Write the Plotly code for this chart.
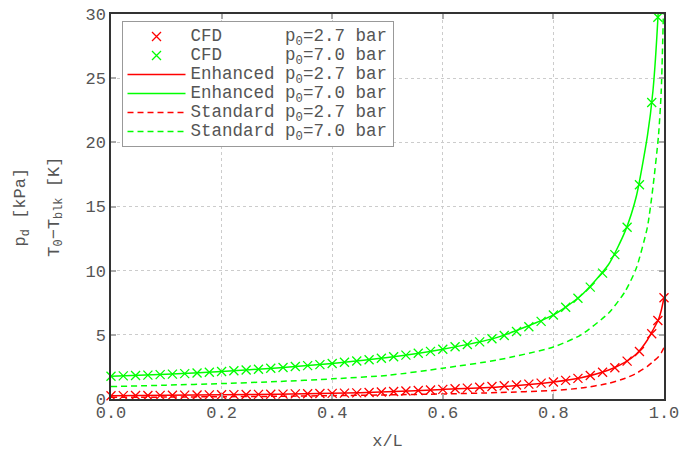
import plotly.graph_objects as go

# CFD sample positions (x/L)
cfd_x = [0.0, 0.0222, 0.0444, 0.0667, 0.0889, 0.1111, 0.1333, 0.1556, 0.1778, 0.2,
         0.2222, 0.2444, 0.2667, 0.2889, 0.3111, 0.3333, 0.3556, 0.3778, 0.4,
         0.4222, 0.4444, 0.4667, 0.4889, 0.5111, 0.5333, 0.5556, 0.5778, 0.6,
         0.6222, 0.6444, 0.6667, 0.6889, 0.7111, 0.7333, 0.7556, 0.7778, 0.8,
         0.8222, 0.8444, 0.8667, 0.8889, 0.9111, 0.9333, 0.9556, 0.9778, 0.9889, 1.0]

cfd_red = [0.25, 0.26, 0.27, 0.27, 0.28, 0.29, 0.30, 0.31, 0.32, 0.33,
           0.34, 0.35, 0.36, 0.37, 0.38, 0.40, 0.41, 0.43, 0.44,
           0.46, 0.48, 0.51, 0.54, 0.58, 0.62, 0.66, 0.70, 0.75,
           0.80, 0.85, 0.91, 0.97, 1.03, 1.09, 1.16, 1.24, 1.33,
           1.45, 1.61, 1.83, 2.09, 2.43, 2.95, 3.70, 5.09, 6.12, 7.89]

cfd_green = [1.77, 1.80, 1.83, 1.86, 1.90, 1.94, 1.98, 2.03, 2.08, 2.14,
             2.20, 2.26, 2.32, 2.39, 2.46, 2.53, 2.60, 2.68, 2.77,
             2.86, 2.96, 3.06, 3.17, 3.29, 3.42, 3.56, 3.71, 3.88,
             4.07, 4.25, 4.45, 4.69, 4.95, 5.26, 5.63, 6.05, 6.55,
             7.15, 7.85, 8.72, 9.81, 11.25, 13.38, 16.7, 23.1, 29.75]

# Model curves
model_x = [0.0, 0.1, 0.2, 0.3, 0.4, 0.5, 0.6, 0.7, 0.8, 0.85, 0.9, 0.93, 0.95,
           0.97, 0.98, 0.99, 0.995, 1.0]
enh_red = [0.25, 0.285, 0.33, 0.375, 0.44, 0.56, 0.75, 0.94, 1.33, 1.66, 2.26,
           2.87, 3.5, 4.6, 5.37, 6.2, 6.9, 7.89]
enh_green = [1.77, 1.92, 2.14, 2.42, 2.77, 3.23, 3.88, 4.82, 6.55, 8.07, 10.5,
             13.1, 15.8, 20.5, 24.0, 30.5, 36.0, 45.0]
std_red = [0.13, 0.15, 0.18, 0.21, 0.26, 0.32, 0.39, 0.50, 0.66, 0.85, 1.22,
           1.62, 2.0, 2.55, 2.9, 3.3, 3.6, 4.0]
std_green = [0.97, 1.08, 1.20, 1.36, 1.57, 1.84, 2.40, 3.05, 4.05, 5.0, 6.7,
             8.4, 10.2, 13.4, 16.5, 20.5, 24.0, 32.0]

x_ticks = [0.0, 0.2, 0.4, 0.6, 0.8, 1.0]
x_tick_labels = ["0.0", "0.2", "0.4", "0.6", "0.8", "1.0"]
y_ticks = [0, 5, 10, 15, 20, 25, 30]

RED = "#ff0000"
GREEN = "#00ff00"
FONT = "Courier New, Liberation Mono, monospace"
TXT = "#555555"
NB = "\u00a0"

def lab(model, p):
    pad = NB * (9 - len(model))
    return (f'<span style="font-size:17.5px">{model}{pad}p<sub>0</sub>={p}{NB}bar</span>')

fig = go.Figure()
fig.add_trace(go.Scatter(x=cfd_x, y=cfd_red, mode="markers", name=lab("CFD", "2.7"),
                         marker=dict(symbol="x-thin", size=9, line=dict(color=RED, width=1.3)),
                         cliponaxis=False))
fig.add_trace(go.Scatter(x=cfd_x[:len(cfd_green)], y=cfd_green, mode="markers", name=lab("CFD", "7.0"),
                         marker=dict(symbol="x-thin", size=9, line=dict(color=GREEN, width=1.3)),
                         cliponaxis=False))
fig.add_trace(go.Scatter(x=model_x, y=enh_red, mode="lines", name=lab("Enhanced", "2.7"),
                         line=dict(color=RED, width=1.5, shape="spline", smoothing=0.6)))
fig.add_trace(go.Scatter(x=model_x, y=enh_green, mode="lines", name=lab("Enhanced", "7.0"),
                         line=dict(color=GREEN, width=1.5, shape="spline", smoothing=0.6)))
fig.add_trace(go.Scatter(x=model_x, y=std_red, mode="lines", name=lab("Standard", "2.7"),
                         line=dict(color=RED, width=1.5, dash="6px,4px", shape="spline", smoothing=0.6)))
fig.add_trace(go.Scatter(x=model_x, y=std_green, mode="lines", name=lab("Standard", "7.0"),
                         line=dict(color=GREEN, width=1.5, dash="6px,4px", shape="spline", smoothing=0.6)))

axis_common = dict(
    showline=True, linecolor="#333333", linewidth=1.5, mirror="ticks",
    ticks="inside", ticklen=5, tickcolor="#aaaaaa", tickwidth=1.5,
    showgrid=True, gridcolor="#cccccc", griddash="dot", gridwidth=1,
    zeroline=False, automargin=False, ticklabeloverflow="allow",
    tickfont=dict(family=FONT, size=17, color=TXT),
)

fig.update_layout(
    width=691, height=457,
    margin=dict(l=111, r=27, t=14, b=58, autoexpand=False),
    paper_bgcolor="white", plot_bgcolor="white",
    font=dict(family=FONT, size=17, color=TXT),
    showlegend=True,
    legend=dict(x=0.019, y=0.982, xanchor="left", yanchor="top",
                bgcolor="white", bordercolor="#999999", borderwidth=1,
                font=dict(family=FONT, size=12, color=TXT),
                tracegroupgap=0, itemwidth=58),
    xaxis=dict(range=[0, 1], tickvals=x_ticks, ticktext=x_tick_labels,
               ticklabelstandoff=-3,
               title=dict(text="x/L", font=dict(family=FONT, size=17, color=TXT), standoff=12),
               **axis_common),
    yaxis=dict(range=[0, 30], tickvals=y_ticks, **axis_common),
)

fig.add_annotation(text="p<sub>d</sub> [kPa]", xref="paper", yref="paper",
                   x=-0.161, y=0.5, xanchor="center", yanchor="middle",
                   textangle=-90, showarrow=False,
                   font=dict(family=FONT, size=17, color=TXT))
fig.add_annotation(text="T<sub>0</sub>\u2212T<sub>blk</sub> [K]", xref="paper", yref="paper",
                   x=-0.101, y=0.5, xanchor="center", yanchor="middle",
                   textangle=-90, showarrow=False,
                   font=dict(family=FONT, size=17, color=TXT))

# remove the default 8px page margin so the figure fills the window exactly
fig.write_html("out.html", config={"displayModeBar": False},
               post_script="document.body.style.margin='0';")
